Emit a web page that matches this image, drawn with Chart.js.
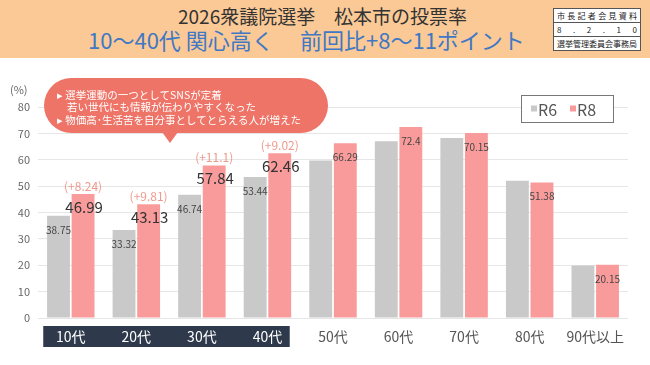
<!DOCTYPE html>
<html lang="ja">
<head>
<meta charset="utf-8">
<script src="https://cdn.jsdelivr.net/npm/chart.js@4/dist/chart.umd.min.js"></script>
<style>
  html, body { margin: 0; padding: 0; background: #fff; }
  body { width: 650px; height: 365px; position: relative; overflow: hidden;
         font-family: "Noto Sans CJK JP", "Noto Sans", sans-serif; }
  #chartWrap { position: absolute; left: 0; top: 0; width: 650px; height: 365px; }
  .header { position: absolute; left: 0; top: 0; width: 650px; height: 58px; background: #fbc996; }
  .t { position: absolute; white-space: nowrap; }
  .t1 { top: 4px; font-size: 19px; line-height: 24px; color: #333; }
  .t2 { top: 25px; font-size: 22px; line-height: 28px; color: #3f78c4; }
  .stamp { position: absolute; left: 553px; top: 8px; width: 86px; background: #fff;
           border: 1px solid #555; font-size: 8px; color: #222; }
  .stamp .row { height: 13px; line-height: 13px; padding: 0 3px; border-top: 1px solid #555;
                display: flex; justify-content: space-between; }
  .stamp .row:first-child { border-top: none; }
  .bubble { position: absolute; left: 44px; top: 78px; width: 284px; height: 55px;
            background: #ee7468; border-radius: 28px; color: #fff; font-size: 10.5px;
            line-height: 12.3px; box-sizing: border-box; padding: 11px 0 0 13px; }
  .bubble:after { content: ""; position: absolute; left: 118px; top: 54px;
                  border-left: 8px solid transparent; border-right: 8px solid transparent;
                  border-top: 11px solid #ee7468; }
  .bubble .ind { padding-left: 10px; }
</style>
</head>
<body>
<div id="chartWrap"><canvas id="turnoutChart"></canvas></div>
<div class="header">
  <div class="t t1" style="left:178px">2026衆議院選挙</div>
  <div class="t t1" style="left:334px">松本市の投票率</div>
  <div class="t t2" style="left:88px">10～40代 関心高く</div>
  <div class="t t2" style="left:300px">前回比+8～11ポイント</div>
  <div class="stamp">
    <div class="row">市長記者会見資料</div>
    <div class="row">8.2.10</div>
    <div class="row">選挙管理委員会事務局</div>
  </div>
</div>
<div class="bubble">
  <div>▸ 選挙運動の一つとしてSNSが定着</div>
  <div class="ind">若い世代にも情報が伝わりやすくなった</div>
  <div>▸ 物価高･生活苦を自分事としてとらえる人が増えた</div>
</div>
<script>
const ageGroups = ['10代', '20代', '30代', '40代', '50代', '60代', '70代', '80代', '90代以上'];
const seriesNames = ['R6', 'R8'];
const turnoutR6 = [38.75, 33.32, 46.74, 53.44, 59.7, 67.0, 68.2, 52.0, 19.9];
const turnoutR8 = [46.99, 43.13, 57.84, 62.46, 66.29, 72.4, 70.15, 51.38, 20.15];
const labelsR6 = ['38.75', '33.32', '46.74', '53.44', '', '', '', '', ''];
const labelsR8 = ['46.99', '43.13', '57.84', '62.46', '66.29', '72.4', '70.15', '51.38', '20.15'];
const changeLabels = ['(+8.24)', '(+9.81)', '(+11.1)', '(+9.02)', '', '', '', '', ''];
const yTicks = [0, 10, 20, 30, 40, 50, 60, 70, 80];
const highlightCount = 4;

const colorR6 = '#c9c9c9';
const colorR8 = '#f99b9b';
const fontJP = '"Noto Sans CJK JP", "Noto Sans", sans-serif';

// spread the stamp rows character by character
document.querySelectorAll('.stamp .row').forEach(row => {
    const chars = Array.from(row.textContent);
    row.textContent = '';
    chars.forEach(ch => {
        const s = document.createElement('span');
        s.textContent = ch;
        row.appendChild(s);
    });
});

const decorPlugin = {
    id: 'decor',
    beforeDraw(chart) {
        // dark band behind the 10-40代 labels
        const ctx = chart.ctx;
        const x = chart.scales.x;
        const step = x.getPixelForValue(1) - x.getPixelForValue(0);
        const left = x.getPixelForValue(0) - step * 0.42;
        const right = x.getPixelForValue(highlightCount - 1) + step * 0.34;
        ctx.save();
        ctx.fillStyle = '#2e3a4c';
        ctx.fillRect(left, chart.chartArea.bottom + 8, right - left, 21);
        ctx.restore();
    },
    afterDatasetsDraw(chart) {
        const ctx = chart.ctx;
        const barsR6 = chart.getDatasetMeta(0).data;
        const barsR8 = chart.getDatasetMeta(1).data;
        ctx.save();
        ctx.textAlign = 'center';
        ctx.textBaseline = 'middle';
        barsR6.forEach((bar, i) => {
            if (!labelsR6[i]) return;
            ctx.font = '10px ' + fontJP;
            ctx.fillStyle = '#444';
            ctx.fillText(labelsR6[i], bar.x, bar.y + 14);
        });
        barsR8.forEach((bar, i) => {
            if (i < highlightCount) {
                ctx.font = '15px ' + fontJP;
                ctx.fillStyle = '#333';
                ctx.fillText(labelsR8[i], bar.x + 1, bar.y + 13);
                ctx.font = '12px ' + fontJP;
                ctx.fillStyle = '#ef9a8c';
                ctx.fillText(changeLabels[i], bar.x, bar.y - 8);
            } else {
                ctx.font = '10px ' + fontJP;
                ctx.fillStyle = '#444';
                ctx.fillText(labelsR8[i], bar.x, bar.y + 14);
            }
        });
        ctx.restore();
    },
    afterDraw(chart) {
        const ctx = chart.ctx;
        const area = chart.chartArea;
        ctx.save();
        // unit label
        ctx.font = '11px ' + fontJP;
        ctx.fillStyle = '#666';
        ctx.textAlign = 'left';
        ctx.textBaseline = 'middle';
        ctx.fillText('(%)', 10, area.top - 17);
        // legend box
        const boxW = 92, boxH = 27;
        const bx = area.right - 15 - boxW;
        const by = area.top - 12;
        ctx.strokeStyle = '#777';
        ctx.lineWidth = 1;
        ctx.fillStyle = '#fff';
        ctx.fillRect(bx, by, boxW, boxH);
        ctx.strokeRect(bx + 0.5, by + 0.5, boxW, boxH);
        ctx.font = '16px ' + fontJP;
        const colors = [colorR6, colorR8];
        seriesNames.forEach((name, i) => {
            const ix = bx + 10 + i * 39;
            ctx.fillStyle = colors[i];
            ctx.fillRect(ix, by + boxH / 2 - 3, 6, 6);
            ctx.fillStyle = '#555';
            ctx.fillText(name, ix + 7, by + boxH / 2 + 1);
        });
        ctx.restore();
    }
};

const ctx = document.getElementById('turnoutChart').getContext('2d');
const turnoutChart = new Chart(ctx, {
    type: 'bar',
    data: {
        labels: ageGroups,
        datasets: [
            { label: seriesNames[0], data: turnoutR6, backgroundColor: colorR6 },
            { label: seriesNames[1], data: turnoutR8, backgroundColor: colorR8 }
        ]
    },
    options: {
        responsive: true,
        maintainAspectRatio: false,
        animation: false,
        layout: { padding: { top: 107, left: 8, right: 22, bottom: 0 } },
        datasets: { bar: { barPercentage: 0.93, categoryPercentage: 0.75 } },
        scales: {
            x: {
                grid: { display: false, drawTicks: false },
                border: { display: false },
                ticks: {
                    padding: 10,
                    font: { family: fontJP, size: 14 },
                    color: (c) => c.index < highlightCount ? '#fff' : '#555'
                },
                afterFit(scale) { scale.height = 47; }
            },
            y: {
                min: 0,
                max: 80,
                afterBuildTicks(scale) { scale.ticks = yTicks.map(v => ({ value: v })); },
                grid: { color: '#e6e6e6', drawTicks: false },
                border: { display: false },
                ticks: {
                    padding: 8,
                    font: { family: fontJP, size: 11 },
                    color: '#666'
                },
                afterFit(scale) { scale.width = 30; }
            }
        },
        plugins: {
            legend: { display: false },
            tooltip: { enabled: false }
        }
    },
    plugins: [decorPlugin]
});
</script>
</body>
</html>
